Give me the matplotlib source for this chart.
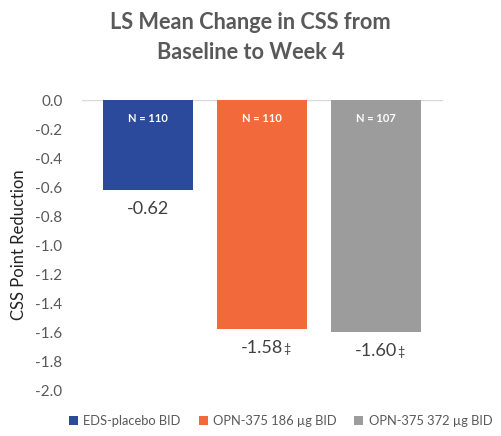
import matplotlib.pyplot as plt
import numpy as np

groups = ['EDS-placebo BID', 'OPN-375 186 µg BID', 'OPN-375 372 µg BID']
changes = [-0.62, -1.58, -1.60]
value_labels = ['-0.62', '-1.58', '-1.60']
value_marks = ['', '‡', '‡']
n_labels = ['N = 110', 'N = 110', 'N = 107']
yticks = np.arange(0.0, -2.01, -0.2)

colors = ['#2B4A9C', '#F2693B', '#9C9C9C']
txt = '#595959'

plt.rcParams['font.family'] = ['Lato', 'DejaVu Sans']

fig = plt.figure(figsize=(5.01, 4.36), dpi=100)
ax = fig.add_axes([0.1637, 0.1055, 0.7206, 0.6651])

x = np.arange(len(groups))
bars = ax.bar(x, changes, width=0.79, color=colors, label=groups, zorder=3)

for i, b in enumerate(bars):
    ax.text(x[i], -0.13, n_labels[i], ha='center', va='center', color='white',
            fontsize=8, fontweight='bold', zorder=5)
    ax.text(x[i], changes[i] - 0.13, value_labels[i], ha='center', va='center',
            color='#404040', fontsize=13, zorder=5)
    if value_marks[i]:
        ax.annotate(value_marks[i], xy=(x[i], changes[i] - 0.13), xytext=(15.5, -1),
                    textcoords='offset points', ha='left', va='center',
                    color='#404040', fontsize=9, zorder=5)

ax.axhline(0, color='#D9D9D9', lw=1, zorder=2)
ax.set_xlim(-0.58, 2.59)
ax.set_ylim(-2.0, 0.0)
ax.set_yticks(yticks)
ax.set_yticklabels([f'{v:.1f}' for v in yticks], color=txt, fontsize=11)
ax.tick_params(axis='y', length=0, pad=14)
ax.set_xticks([])
for s in ax.spines.values():
    s.set_visible(False)
ax.set_ylabel('CSS Point Reduction', fontsize=12, color='#222222', labelpad=6)

fig.suptitle('LS Mean Change in CSS from\nBaseline to Week 4', fontsize=15.7,
             fontweight='bold', color=txt, y=0.972, linespacing=1.5)

fig.legend(handles=bars, labels=groups, loc='center', bbox_to_anchor=(0.56, 0.035),
           ncol=3, frameon=False, fontsize=9.3, handlelength=0.7, handleheight=0.7,
           handletextpad=0.4, columnspacing=1.4, labelcolor=txt)

fig.savefig('out.png', dpi=100, facecolor='white')
